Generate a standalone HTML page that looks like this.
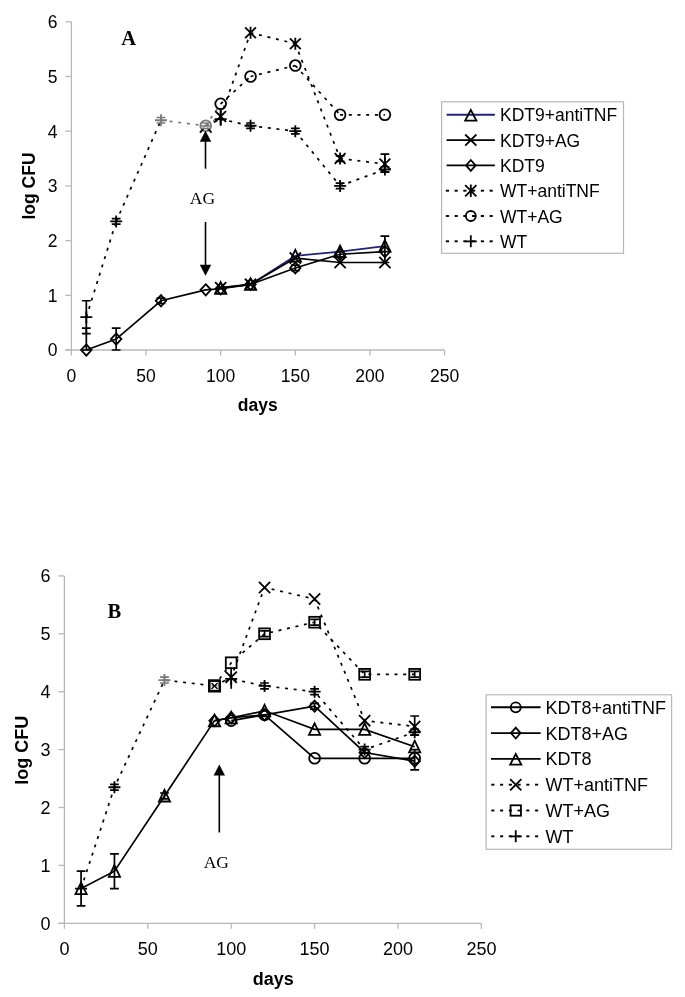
<!DOCTYPE html>
<html><head><meta charset="utf-8"><style>
html,body{margin:0;padding:0;background:#fff;}
body{width:685px;height:997px;overflow:hidden;}
svg{display:block;will-change:transform;}
</style></head><body>
<svg width="685" height="997" viewBox="0 0 685 997">
<rect width="685" height="997" fill="#fff"/>
<g stroke="#b8b8b8" stroke-width="1.3" fill="none">
<path d="M71.4 21.8L71.4 350"/>
<path d="M65.4 350L444.6 350"/>
<path d="M65.4 350L71.4 350"/>
<path d="M65.4 295.3L71.4 295.3"/>
<path d="M65.4 240.6L71.4 240.6"/>
<path d="M65.4 185.9L71.4 185.9"/>
<path d="M65.4 131.2L71.4 131.2"/>
<path d="M65.4 76.5L71.4 76.5"/>
<path d="M65.4 21.8L71.4 21.8"/>
<path d="M71.4 350L71.4 355.5"/>
<path d="M146.04 350L146.04 355.5"/>
<path d="M220.68 350L220.68 355.5"/>
<path d="M295.32 350L295.32 355.5"/>
<path d="M369.96 350L369.96 355.5"/>
<path d="M444.6 350L444.6 355.5"/>
</g>
<g font-family="Liberation Sans, sans-serif" font-size="17.5" fill="#000">
<text x="57.4" y="356.3" text-anchor="end">0</text>
<text x="57.4" y="301.6" text-anchor="end">1</text>
<text x="57.4" y="246.9" text-anchor="end">2</text>
<text x="57.4" y="192.2" text-anchor="end">3</text>
<text x="57.4" y="137.5" text-anchor="end">4</text>
<text x="57.4" y="82.8" text-anchor="end">5</text>
<text x="57.4" y="28.1" text-anchor="end">6</text>
<text x="71.4" y="382" text-anchor="middle">0</text>
<text x="146.04" y="382" text-anchor="middle">50</text>
<text x="220.68" y="382" text-anchor="middle">100</text>
<text x="295.32" y="382" text-anchor="middle">150</text>
<text x="369.96" y="382" text-anchor="middle">200</text>
<text x="444.6" y="382" text-anchor="middle">250</text>
</g>
<text x="257.7" y="411" font-family="Liberation Sans, sans-serif" font-weight="bold" font-size="17.5" text-anchor="middle">days</text>
<text transform="translate(35 186) rotate(-90)" font-family="Liberation Sans, sans-serif" font-weight="bold" font-size="17.5" text-anchor="middle">log CFU</text>
<text x="121.2" y="44.5" font-family="Liberation Serif, serif" font-weight="bold" font-size="20.5">A</text>
<path d="M86.33 317.18L116.18 221.45" stroke="#000" stroke-width="1.7" stroke-dasharray="3 5.7" fill="none"/>
<path d="M116.18 221.45L160.97 120.26" stroke="#000" stroke-width="1.7" stroke-dasharray="3 5.7" fill="none"/>
<path d="M160.97 120.26L205.75 125.73" stroke="#7a7a7a" stroke-width="1.7" stroke-dasharray="3 5.7" fill="none"/>
<path d="M205.75 125.73L220.68 119.17" stroke="#000" stroke-width="1.7" stroke-dasharray="3 5.7" fill="none"/>
<path d="M220.68 119.17L250.54 125.73" stroke="#000" stroke-width="1.7" stroke-dasharray="3 5.7" fill="none"/>
<path d="M250.54 125.73L295.32 131.2" stroke="#000" stroke-width="1.7" stroke-dasharray="3 5.7" fill="none"/>
<path d="M295.32 131.2L340.1 185.9" stroke="#000" stroke-width="1.7" stroke-dasharray="3 5.7" fill="none"/>
<path d="M340.1 185.9L384.89 169.49" stroke="#000" stroke-width="1.7" stroke-dasharray="3 5.7" fill="none"/>
<path d="M205.75 125.73L220.68 116.43" stroke="#7a7a7a" stroke-width="1.7" stroke-dasharray="3 5.7" fill="none"/>
<path d="M220.68 116.43L250.54 32.74" stroke="#000" stroke-width="1.7" stroke-dasharray="3 5.7" fill="none"/>
<path d="M250.54 32.74L295.32 43.68" stroke="#000" stroke-width="1.7" stroke-dasharray="3 5.7" fill="none"/>
<path d="M295.32 43.68L340.1 158.55" stroke="#000" stroke-width="1.7" stroke-dasharray="3 5.7" fill="none"/>
<path d="M340.1 158.55L384.89 164.02" stroke="#000" stroke-width="1.7" stroke-dasharray="3 5.7" fill="none"/>
<path d="M205.75 125.73L220.68 103.85" stroke="#7a7a7a" stroke-width="1.7" stroke-dasharray="3 5.7" fill="none"/>
<path d="M220.68 103.85L250.54 76.5" stroke="#000" stroke-width="1.7" stroke-dasharray="3 5.7" fill="none"/>
<path d="M250.54 76.5L295.32 65.56" stroke="#000" stroke-width="1.7" stroke-dasharray="3 5.7" fill="none"/>
<path d="M295.32 65.56L340.1 114.79" stroke="#000" stroke-width="1.7" stroke-dasharray="3 5.7" fill="none"/>
<path d="M340.1 114.79L384.89 114.79" stroke="#000" stroke-width="1.7" stroke-dasharray="3 5.7" fill="none"/>
<polyline points="220.68,288.19 250.54,284.36 295.32,255.92 340.1,251.54 384.89,246.07" fill="none" stroke="#22227a" stroke-width="1.7" />
<polyline points="220.68,287.64 250.54,284.36 295.32,258.1 340.1,262.48 384.89,262.48" fill="none" stroke="#000" stroke-width="1.7" />
<polyline points="86.33,350 116.18,339.06 160.97,300.77 205.75,289.83 220.68,288.74 250.54,284.36 295.32,267.95 340.1,254.27 384.89,251.54" fill="none" stroke="#000" stroke-width="1.7" />
<path d="M86.33 350L86.33 300.77M81.93 350L90.73 350M81.93 300.77L90.73 300.77" stroke="#000" stroke-width="1.7" fill="none"/>
<path d="M86.33 333.59L86.33 328.12M81.93 333.59L90.73 333.59M81.93 328.12L90.73 328.12" stroke="#000" stroke-width="1.7" fill="none"/>
<path d="M116.18 350L116.18 328.12M111.78 350L120.58 350M111.78 328.12L120.58 328.12" stroke="#000" stroke-width="1.7" fill="none"/>
<path d="M384.89 262.48L384.89 236.22M380.49 262.48L389.29 262.48M380.49 236.22L389.29 236.22" stroke="#000" stroke-width="1.7" fill="none"/>
<path d="M384.89 172.22L384.89 154.17M380.49 172.22L389.29 172.22M380.49 154.17L389.29 154.17" stroke="#000" stroke-width="1.7" fill="none"/>
<path d="M116.18 224.19L116.18 218.72M111.78 224.19L120.58 224.19M111.78 218.72L120.58 218.72" stroke="#000" stroke-width="1.7" fill="none"/>
<path d="M160.97 122.99L160.97 117.52M156.57 122.99L165.37 122.99M156.57 117.52L165.37 117.52" stroke="#7a7a7a" stroke-width="1.7" fill="none"/>
<path d="M250.54 128.47L250.54 122.99M246.14 128.47L254.94 128.47M246.14 122.99L254.94 122.99" stroke="#000" stroke-width="1.7" fill="none"/>
<path d="M295.32 133.93L295.32 128.47M290.92 133.93L299.72 133.93M290.92 128.47L299.72 128.47" stroke="#000" stroke-width="1.7" fill="none"/>
<path d="M340.1 188.63L340.1 183.16M335.7 188.63L344.5 188.63M335.7 183.16L344.5 183.16" stroke="#000" stroke-width="1.7" fill="none"/>
<path d="M384.89 172.22L384.89 166.75M380.49 172.22L389.29 172.22M380.49 166.75L389.29 166.75" stroke="#000" stroke-width="1.7" fill="none"/>
<path d="M160.97 303.5L160.97 298.03M156.57 303.5L165.37 303.5M156.57 298.03L165.37 298.03" stroke="#000" stroke-width="1.7" fill="none"/>
<path d="M295.32 270.69L295.32 265.21M290.92 270.69L299.72 270.69M290.92 265.21L299.72 265.21" stroke="#000" stroke-width="1.7" fill="none"/>
<path d="M340.1 257.01L340.1 251.54M335.7 257.01L344.5 257.01M335.7 251.54L344.5 251.54" stroke="#000" stroke-width="1.7" fill="none"/>
<path d="M340.1 161.28L340.1 155.81M335.7 161.28L344.5 161.28M335.7 155.81L344.5 155.81" stroke="#000" stroke-width="1.7" fill="none"/>
<path d="M80.33 317.18L92.33 317.18M86.33 311.18L86.33 323.18" stroke="#000" stroke-width="1.8" fill="none"/>
<path d="M110.18 221.45L122.18 221.45M116.18 215.45L116.18 227.45" stroke="#000" stroke-width="1.8" fill="none"/>
<path d="M154.97 120.26L166.97 120.26M160.97 114.26L160.97 126.26" stroke="#7a7a7a" stroke-width="1.8" fill="none"/>
<path d="M199.75 125.73L211.75 125.73M205.75 119.73L205.75 131.73" stroke="none" stroke-width="1.8" fill="none"/>
<path d="M214.68 119.17L226.68 119.17M220.68 113.17L220.68 125.17" stroke="#000" stroke-width="1.8" fill="none"/>
<path d="M244.54 125.73L256.54 125.73M250.54 119.73L250.54 131.73" stroke="#000" stroke-width="1.8" fill="none"/>
<path d="M289.32 131.2L301.32 131.2M295.32 125.2L295.32 137.2" stroke="#000" stroke-width="1.8" fill="none"/>
<path d="M334.1 185.9L346.1 185.9M340.1 179.9L340.1 191.9" stroke="#000" stroke-width="1.8" fill="none"/>
<path d="M378.89 169.49L390.89 169.49M384.89 163.49L384.89 175.49" stroke="#000" stroke-width="1.8" fill="none"/>
<path d="M200.35 120.33L211.15 131.13M211.15 120.33L200.35 131.13M205.75 119.73L205.75 131.73" stroke="none" stroke-width="1.8" fill="none"/>
<path d="M215.28 111.03L226.08 121.83M226.08 111.03L215.28 121.83M220.68 110.43L220.68 122.43" stroke="#000" stroke-width="1.8" fill="none"/>
<path d="M245.14 27.34L255.94 38.14M255.94 27.34L245.14 38.14M250.54 26.74L250.54 38.74" stroke="#000" stroke-width="1.8" fill="none"/>
<path d="M289.92 38.28L300.72 49.08M300.72 38.28L289.92 49.08M295.32 37.68L295.32 49.68" stroke="#000" stroke-width="1.8" fill="none"/>
<path d="M334.7 153.15L345.5 163.95M345.5 153.15L334.7 163.95M340.1 152.55L340.1 164.55" stroke="#000" stroke-width="1.8" fill="none"/>
<path d="M379.49 158.62L390.29 169.42M390.29 158.62L379.49 169.42M384.89 158.02L384.89 170.02" stroke="#000" stroke-width="1.8" fill="none"/>
<circle cx="205.75" cy="125.73" r="5.4" fill="none" stroke="#7a7a7a" stroke-width="1.8"/>
<circle cx="220.68" cy="103.85" r="5.4" fill="none" stroke="#000" stroke-width="1.8"/>
<circle cx="250.54" cy="76.5" r="5.4" fill="none" stroke="#000" stroke-width="1.8"/>
<circle cx="295.32" cy="65.56" r="5.4" fill="none" stroke="#000" stroke-width="1.8"/>
<circle cx="340.1" cy="114.79" r="5.4" fill="none" stroke="#000" stroke-width="1.8"/>
<circle cx="384.89" cy="114.79" r="5.4" fill="none" stroke="#000" stroke-width="1.8"/>
<path d="M220.68 282.19L226.28 293.79L215.08 293.79Z" fill="none" stroke="#000" stroke-width="1.8" stroke-linejoin="miter"/>
<path d="M250.54 278.36L256.14 289.96L244.94 289.96Z" fill="none" stroke="#000" stroke-width="1.8" stroke-linejoin="miter"/>
<path d="M295.32 249.92L300.92 261.52L289.72 261.52Z" fill="none" stroke="#000" stroke-width="1.8" stroke-linejoin="miter"/>
<path d="M340.1 245.54L345.7 257.14L334.5 257.14Z" fill="none" stroke="#000" stroke-width="1.8" stroke-linejoin="miter"/>
<path d="M384.89 240.07L390.49 251.67L379.29 251.67Z" fill="none" stroke="#000" stroke-width="1.8" stroke-linejoin="miter"/>
<path d="M215.08 282.04L226.28 293.24M226.28 282.04L215.08 293.24" stroke="#000" stroke-width="1.8" fill="none"/>
<path d="M244.94 278.76L256.14 289.96M256.14 278.76L244.94 289.96" stroke="#000" stroke-width="1.8" fill="none"/>
<path d="M289.72 252.5L300.92 263.7M300.92 252.5L289.72 263.7" stroke="#000" stroke-width="1.8" fill="none"/>
<path d="M334.5 256.88L345.7 268.08M345.7 256.88L334.5 268.08" stroke="#000" stroke-width="1.8" fill="none"/>
<path d="M379.29 256.88L390.49 268.08M390.49 256.88L379.29 268.08" stroke="#000" stroke-width="1.8" fill="none"/>
<path d="M86.33 344.4L91.53 350L86.33 355.6L81.13 350Z" fill="none" stroke="#000" stroke-width="1.8"/>
<path d="M116.18 333.46L121.38 339.06L116.18 344.66L110.98 339.06Z" fill="none" stroke="#000" stroke-width="1.8"/>
<path d="M160.97 295.17L166.17 300.77L160.97 306.37L155.77 300.77Z" fill="none" stroke="#000" stroke-width="1.8"/>
<path d="M205.75 284.23L210.95 289.83L205.75 295.43L200.55 289.83Z" fill="none" stroke="#000" stroke-width="1.8"/>
<path d="M220.68 283.14L225.88 288.74L220.68 294.34L215.48 288.74Z" fill="none" stroke="#000" stroke-width="1.8"/>
<path d="M250.54 278.76L255.74 284.36L250.54 289.96L245.34 284.36Z" fill="none" stroke="#000" stroke-width="1.8"/>
<path d="M295.32 262.35L300.52 267.95L295.32 273.55L290.12 267.95Z" fill="none" stroke="#000" stroke-width="1.8"/>
<path d="M340.1 248.67L345.3 254.27L340.1 259.88L334.9 254.27Z" fill="none" stroke="#000" stroke-width="1.8"/>
<path d="M384.89 245.94L390.09 251.54L384.89 257.14L379.69 251.54Z" fill="none" stroke="#000" stroke-width="1.8"/>
<path d="M199.95 132.53L204.25 127.93M211.55 132.53L207.25 127.93" stroke="#000" stroke-width="1.9"/>
<path d="M201.35 122.93L210.15 122.93M200.25 126.03L211.25 126.03M201.35 128.53L210.15 128.53" stroke="#7a7a7a" stroke-width="1.6"/>
<path d="M220.68 108.23L220.68 125.73" stroke="#000" stroke-width="1.7"/>
<path d="M205.5 168.7L205.5 138.8" stroke="#000" stroke-width="1.6"/>
<path d="M205.5 130.8L211.2 141.8L199.8 141.8Z" fill="#000"/>
<path d="M205.5 222L205.5 267.8" stroke="#000" stroke-width="1.6"/>
<path d="M205.5 275.8L211.2 264.8L199.8 264.8Z" fill="#000"/>
<text x="202.5" y="203.5" font-family="Liberation Serif, serif" font-size="17.5" text-anchor="middle">AG</text>
<rect x="441.6" y="101.8" width="181.9" height="151.5" fill="none" stroke="#b8b8b8" stroke-width="1.2"/>
<path d="M446.6 114.8L494.9 114.8" stroke="#22227a" stroke-width="1.9"/>
<path d="M470.8 109.9L476.4 120.6L465.2 120.6Z" fill="none" stroke="#000" stroke-width="1.8" stroke-linejoin="miter"/>
<text x="500" y="121.3" font-family="Liberation Sans, sans-serif" font-size="17.5">KDT9+antiTNF</text>
<path d="M446.6 140.1L494.9 140.1" stroke="#000" stroke-width="1.9"/>
<path d="M465.2 134.5L476.4 145.7M476.4 134.5L465.2 145.7" stroke="#000" stroke-width="1.8" fill="none"/>
<text x="500" y="146.6" font-family="Liberation Sans, sans-serif" font-size="17.5">KDT9+AG</text>
<path d="M446.6 165.4L494.9 165.4" stroke="#000" stroke-width="1.9"/>
<path d="M470.8 160L475.6 165.4L470.8 170.8L466 165.4Z" fill="none" stroke="#000" stroke-width="1.8"/>
<text x="500" y="171.9" font-family="Liberation Sans, sans-serif" font-size="17.5">KDT9</text>
<path d="M445.8 190.7L449 190.7" stroke="#000" stroke-width="1.9"/>
<path d="M454.55 190.7L457.75 190.7" stroke="#000" stroke-width="1.9"/>
<path d="M463.3 190.7L466.5 190.7" stroke="#000" stroke-width="1.9"/>
<path d="M472.05 190.7L475.25 190.7" stroke="#000" stroke-width="1.9"/>
<path d="M480.8 190.7L484 190.7" stroke="#000" stroke-width="1.9"/>
<path d="M489.55 190.7L492.75 190.7" stroke="#000" stroke-width="1.9"/>
<path d="M465.2 185.1L476.4 196.3M476.4 185.1L465.2 196.3M470.8 184.5L470.8 196.9" stroke="#000" stroke-width="1.8" fill="none"/>
<text x="500" y="197.2" font-family="Liberation Sans, sans-serif" font-size="17.5">WT+antiTNF</text>
<path d="M445.8 216L449 216" stroke="#000" stroke-width="1.9"/>
<path d="M454.55 216L457.75 216" stroke="#000" stroke-width="1.9"/>
<path d="M463.3 216L466.5 216" stroke="#000" stroke-width="1.9"/>
<path d="M472.05 216L475.25 216" stroke="#000" stroke-width="1.9"/>
<path d="M480.8 216L484 216" stroke="#000" stroke-width="1.9"/>
<path d="M489.55 216L492.75 216" stroke="#000" stroke-width="1.9"/>
<circle cx="470.8" cy="216" r="5" fill="none" stroke="#000" stroke-width="1.8"/>
<text x="500" y="222.5" font-family="Liberation Sans, sans-serif" font-size="17.5">WT+AG</text>
<path d="M445.8 241.3L449 241.3" stroke="#000" stroke-width="1.9"/>
<path d="M454.55 241.3L457.75 241.3" stroke="#000" stroke-width="1.9"/>
<path d="M463.3 241.3L466.5 241.3" stroke="#000" stroke-width="1.9"/>
<path d="M472.05 241.3L475.25 241.3" stroke="#000" stroke-width="1.9"/>
<path d="M480.8 241.3L484 241.3" stroke="#000" stroke-width="1.9"/>
<path d="M489.55 241.3L492.75 241.3" stroke="#000" stroke-width="1.9"/>
<path d="M464.8 241.3L476.8 241.3M470.8 235.3L470.8 247.3" stroke="#000" stroke-width="1.8" fill="none"/>
<text x="500" y="247.8" font-family="Liberation Sans, sans-serif" font-size="17.5">WT</text>
<g stroke="#b8b8b8" stroke-width="1.3" fill="none">
<path d="M64.4 575.9L64.4 923.3"/>
<path d="M58.4 923.3L481.4 923.3"/>
<path d="M58.4 923.3L64.4 923.3"/>
<path d="M58.4 865.4L64.4 865.4"/>
<path d="M58.4 807.5L64.4 807.5"/>
<path d="M58.4 749.6L64.4 749.6"/>
<path d="M58.4 691.7L64.4 691.7"/>
<path d="M58.4 633.8L64.4 633.8"/>
<path d="M58.4 575.9L64.4 575.9"/>
<path d="M64.4 923.3L64.4 928.8"/>
<path d="M147.8 923.3L147.8 928.8"/>
<path d="M231.2 923.3L231.2 928.8"/>
<path d="M314.6 923.3L314.6 928.8"/>
<path d="M398 923.3L398 928.8"/>
<path d="M481.4 923.3L481.4 928.8"/>
</g>
<g font-family="Liberation Sans, sans-serif" font-size="18" fill="#000">
<text x="50.4" y="929.6" text-anchor="end">0</text>
<text x="50.4" y="871.7" text-anchor="end">1</text>
<text x="50.4" y="813.8" text-anchor="end">2</text>
<text x="50.4" y="755.9" text-anchor="end">3</text>
<text x="50.4" y="698" text-anchor="end">4</text>
<text x="50.4" y="640.1" text-anchor="end">5</text>
<text x="50.4" y="582.2" text-anchor="end">6</text>
<text x="64.4" y="955.3" text-anchor="middle">0</text>
<text x="147.8" y="955.3" text-anchor="middle">50</text>
<text x="231.2" y="955.3" text-anchor="middle">100</text>
<text x="314.6" y="955.3" text-anchor="middle">150</text>
<text x="398" y="955.3" text-anchor="middle">200</text>
<text x="481.4" y="955.3" text-anchor="middle">250</text>
</g>
<text x="273.2" y="985.2" font-family="Liberation Sans, sans-serif" font-weight="bold" font-size="18" text-anchor="middle">days</text>
<text transform="translate(28 750.2) rotate(-90)" font-family="Liberation Sans, sans-serif" font-weight="bold" font-size="18" text-anchor="middle">log CFU</text>
<text x="107.5" y="618" font-family="Liberation Serif, serif" font-weight="bold" font-size="20.5">B</text>
<polyline points="81.08,888.56 114.44,787.23 164.48,680.12 214.52,685.91 231.2,678.96 264.56,685.91 314.6,691.7 364.64,749.6 414.68,732.23" fill="none" stroke="#000" stroke-width="1.7" stroke-dasharray="3 5.7"/>
<polyline points="214.52,685.91 231.2,662.75 264.56,633.8 314.6,622.22 364.64,674.33 414.68,674.33" fill="none" stroke="#000" stroke-width="1.7" stroke-dasharray="3 5.7"/>
<polyline points="214.52,685.91 231.2,677.22 264.56,587.48 314.6,599.06 364.64,720.65 414.68,726.44" fill="none" stroke="#000" stroke-width="1.7" stroke-dasharray="3 5.7"/>
<polyline points="81.08,888.56 114.44,871.19 164.48,795.92 214.52,720.65 231.2,717.75 264.56,710.81 314.6,729.33 364.64,729.33 414.68,746.7" fill="none" stroke="#000" stroke-width="1.7" />
<polyline points="214.52,720.65 231.2,717.75 264.56,714.86 314.6,706.17 364.64,752.49 414.68,761.18" fill="none" stroke="#000" stroke-width="1.7" />
<polyline points="231.2,720.65 264.56,714.86 314.6,758.28 364.64,758.28 414.68,758.28" fill="none" stroke="#000" stroke-width="1.7" />
<path d="M81.08 905.93L81.08 871.19M76.68 905.93L85.48 905.93M76.68 871.19L85.48 871.19" stroke="#000" stroke-width="1.7" fill="none"/>
<path d="M114.44 888.56L114.44 853.82M110.04 888.56L118.84 888.56M110.04 853.82L118.84 853.82" stroke="#000" stroke-width="1.7" fill="none"/>
<path d="M414.68 735.12L414.68 716.02M410.28 735.12L419.08 735.12M410.28 716.02L419.08 716.02" stroke="#000" stroke-width="1.7" fill="none"/>
<path d="M414.68 769.87L414.68 749.6M410.28 769.87L419.08 769.87M410.28 749.6L419.08 749.6" stroke="#000" stroke-width="1.7" fill="none"/>
<path d="M114.44 790.13L114.44 784.34M110.04 790.13L118.84 790.13M110.04 784.34L118.84 784.34" stroke="#000" stroke-width="1.7" fill="none"/>
<path d="M164.48 683.01L164.48 677.22M160.08 683.01L168.88 683.01M160.08 677.22L168.88 677.22" stroke="#7a7a7a" stroke-width="1.7" fill="none"/>
<path d="M264.56 688.8L264.56 683.01M260.16 688.8L268.96 688.8M260.16 683.01L268.96 683.01" stroke="#000" stroke-width="1.7" fill="none"/>
<path d="M314.6 694.59L314.6 688.8M310.2 694.59L319 694.59M310.2 688.8L319 688.8" stroke="#000" stroke-width="1.7" fill="none"/>
<path d="M364.64 752.49L364.64 746.7M360.24 752.49L369.04 752.49M360.24 746.7L369.04 746.7" stroke="#000" stroke-width="1.7" fill="none"/>
<path d="M414.68 735.12L414.68 729.33M410.28 735.12L419.08 735.12M410.28 729.33L419.08 729.33" stroke="#000" stroke-width="1.7" fill="none"/>
<path d="M164.48 798.81L164.48 793.02M160.08 798.81L168.88 798.81M160.08 793.02L168.88 793.02" stroke="#000" stroke-width="1.7" fill="none"/>
<path d="M314.6 625.12L314.6 619.33M310.2 625.12L319 625.12M310.2 619.33L319 619.33" stroke="#000" stroke-width="1.7" fill="none"/>
<path d="M264.56 636.69L264.56 630.9M260.16 636.69L268.96 636.69M260.16 630.9L268.96 630.9" stroke="#000" stroke-width="1.7" fill="none"/>
<path d="M364.64 677.22L364.64 671.43M360.24 677.22L369.04 677.22M360.24 671.43L369.04 671.43" stroke="#000" stroke-width="1.7" fill="none"/>
<path d="M414.68 677.22L414.68 671.43M410.28 677.22L419.08 677.22M410.28 671.43L419.08 671.43" stroke="#000" stroke-width="1.7" fill="none"/>
<path d="M314.6 709.07L314.6 703.28M310.2 709.07L319 709.07M310.2 703.28L319 703.28" stroke="#000" stroke-width="1.7" fill="none"/>
<path d="M75.08 888.56L87.08 888.56M81.08 882.56L81.08 894.56" stroke="#000" stroke-width="1.8" fill="none"/>
<path d="M108.44 787.23L120.44 787.23M114.44 781.23L114.44 793.23" stroke="#000" stroke-width="1.8" fill="none"/>
<path d="M158.48 680.12L170.48 680.12M164.48 674.12L164.48 686.12" stroke="#7a7a7a" stroke-width="1.8" fill="none"/>
<path d="M208.52 685.91L220.52 685.91M214.52 679.91L214.52 691.91" stroke="#000" stroke-width="1.8" fill="none"/>
<path d="M225.2 678.96L237.2 678.96M231.2 672.96L231.2 684.96" stroke="#000" stroke-width="1.8" fill="none"/>
<path d="M258.56 685.91L270.56 685.91M264.56 679.91L264.56 691.91" stroke="#000" stroke-width="1.8" fill="none"/>
<path d="M308.6 691.7L320.6 691.7M314.6 685.7L314.6 697.7" stroke="#000" stroke-width="1.8" fill="none"/>
<path d="M358.64 749.6L370.64 749.6M364.64 743.6L364.64 755.6" stroke="#000" stroke-width="1.8" fill="none"/>
<path d="M408.68 732.23L420.68 732.23M414.68 726.23L414.68 738.23" stroke="#000" stroke-width="1.8" fill="none"/>
<rect x="209.12" y="680.51" width="10.8" height="10.8" fill="none" stroke="#000" stroke-width="1.8"/>
<rect x="225.8" y="657.35" width="10.8" height="10.8" fill="none" stroke="#000" stroke-width="1.8"/>
<rect x="259.16" y="628.4" width="10.8" height="10.8" fill="none" stroke="#000" stroke-width="1.8"/>
<rect x="309.2" y="616.82" width="10.8" height="10.8" fill="none" stroke="#000" stroke-width="1.8"/>
<rect x="359.24" y="668.93" width="10.8" height="10.8" fill="none" stroke="#000" stroke-width="1.8"/>
<rect x="409.28" y="668.93" width="10.8" height="10.8" fill="none" stroke="#000" stroke-width="1.8"/>
<path d="M208.92 680.31L220.12 691.51M220.12 680.31L208.92 691.51" stroke="#000" stroke-width="1.8" fill="none"/>
<path d="M225.6 671.62L236.8 682.82M236.8 671.62L225.6 682.82" stroke="#000" stroke-width="1.8" fill="none"/>
<path d="M258.96 581.88L270.16 593.08M270.16 581.88L258.96 593.08" stroke="#000" stroke-width="1.8" fill="none"/>
<path d="M309 593.46L320.2 604.66M320.2 593.46L309 604.66" stroke="#000" stroke-width="1.8" fill="none"/>
<path d="M359.04 715.05L370.24 726.25M370.24 715.05L359.04 726.25" stroke="#000" stroke-width="1.8" fill="none"/>
<path d="M409.08 720.84L420.28 732.04M420.28 720.84L409.08 732.04" stroke="#000" stroke-width="1.8" fill="none"/>
<path d="M81.08 882.56L86.68 894.16L75.48 894.16Z" fill="none" stroke="#000" stroke-width="1.8" stroke-linejoin="miter"/>
<path d="M114.44 865.19L120.04 876.79L108.84 876.79Z" fill="none" stroke="#000" stroke-width="1.8" stroke-linejoin="miter"/>
<path d="M164.48 789.92L170.08 801.52L158.88 801.52Z" fill="none" stroke="#000" stroke-width="1.8" stroke-linejoin="miter"/>
<path d="M214.52 714.65L220.12 726.25L208.92 726.25Z" fill="none" stroke="#000" stroke-width="1.8" stroke-linejoin="miter"/>
<path d="M231.2 711.75L236.8 723.36L225.6 723.36Z" fill="none" stroke="#000" stroke-width="1.8" stroke-linejoin="miter"/>
<path d="M264.56 704.81L270.16 716.41L258.96 716.41Z" fill="none" stroke="#000" stroke-width="1.8" stroke-linejoin="miter"/>
<path d="M314.6 723.33L320.2 734.93L309 734.93Z" fill="none" stroke="#000" stroke-width="1.8" stroke-linejoin="miter"/>
<path d="M364.64 723.33L370.24 734.93L359.04 734.93Z" fill="none" stroke="#000" stroke-width="1.8" stroke-linejoin="miter"/>
<path d="M414.68 740.7L420.28 752.3L409.08 752.3Z" fill="none" stroke="#000" stroke-width="1.8" stroke-linejoin="miter"/>
<path d="M214.52 715.05L219.72 720.65L214.52 726.25L209.32 720.65Z" fill="none" stroke="#000" stroke-width="1.8"/>
<path d="M231.2 712.15L236.4 717.75L231.2 723.36L226 717.75Z" fill="none" stroke="#000" stroke-width="1.8"/>
<path d="M264.56 709.26L269.76 714.86L264.56 720.46L259.36 714.86Z" fill="none" stroke="#000" stroke-width="1.8"/>
<path d="M314.6 700.57L319.8 706.17L314.6 711.77L309.4 706.17Z" fill="none" stroke="#000" stroke-width="1.8"/>
<path d="M364.64 746.89L369.84 752.49L364.64 758.09L359.44 752.49Z" fill="none" stroke="#000" stroke-width="1.8"/>
<path d="M414.68 755.58L419.88 761.18L414.68 766.78L409.48 761.18Z" fill="none" stroke="#000" stroke-width="1.8"/>
<circle cx="231.2" cy="720.65" r="5.4" fill="none" stroke="#000" stroke-width="1.8"/>
<circle cx="264.56" cy="714.86" r="5.4" fill="none" stroke="#000" stroke-width="1.8"/>
<circle cx="314.6" cy="758.28" r="5.4" fill="none" stroke="#000" stroke-width="1.8"/>
<circle cx="364.64" cy="758.28" r="5.4" fill="none" stroke="#000" stroke-width="1.8"/>
<circle cx="414.68" cy="758.28" r="5.4" fill="none" stroke="#000" stroke-width="1.8"/>
<rect x="209.32" y="680.71" width="10.4" height="10.4" fill="#fff" stroke="#000" stroke-width="2.5"/>
<path d="M211.52 682.91L217.52 688.91M217.52 682.91L211.52 688.91" stroke="#000" stroke-width="1.4" fill="none"/>
<path d="M211.52 685.91L217.52 685.91" stroke="#000" stroke-width="0.8"/>
<path d="M231.2 667.38L231.2 688.8" stroke="#000" stroke-width="1.7"/>
<path d="M219.3 832.5L219.3 772.6" stroke="#000" stroke-width="1.6"/>
<path d="M219.3 764.6L225 775.6L213.6 775.6Z" fill="#000"/>
<text x="216.3" y="868" font-family="Liberation Serif, serif" font-size="17.5" text-anchor="middle">AG</text>
<rect x="486.1" y="694.8" width="185.5" height="154.5" fill="none" stroke="#b8b8b8" stroke-width="1.2"/>
<path d="M491 707.3L540.6 707.3" stroke="#000" stroke-width="1.9"/>
<circle cx="515.75" cy="707.3" r="5" fill="none" stroke="#000" stroke-width="1.8"/>
<text x="545.4" y="713.8" font-family="Liberation Sans, sans-serif" font-size="18">KDT8+antiTNF</text>
<path d="M491 733.1L540.6 733.1" stroke="#000" stroke-width="1.9"/>
<path d="M515.75 727.7L520.55 733.1L515.75 738.5L510.95 733.1Z" fill="none" stroke="#000" stroke-width="1.8"/>
<text x="545.4" y="739.6" font-family="Liberation Sans, sans-serif" font-size="18">KDT8+AG</text>
<path d="M491 758.9L540.6 758.9" stroke="#000" stroke-width="1.9"/>
<path d="M515.75 754L521.35 764.7L510.15 764.7Z" fill="none" stroke="#000" stroke-width="1.8" stroke-linejoin="miter"/>
<text x="545.4" y="765.4" font-family="Liberation Sans, sans-serif" font-size="18">KDT8</text>
<path d="M491.3 784.7L494.4 784.7" stroke="#000" stroke-width="1.9"/>
<path d="M500.05 784.7L503.15 784.7" stroke="#000" stroke-width="1.9"/>
<path d="M508.8 784.7L511.9 784.7" stroke="#000" stroke-width="1.9"/>
<path d="M517.55 784.7L520.65 784.7" stroke="#000" stroke-width="1.9"/>
<path d="M526.3 784.7L529.4 784.7" stroke="#000" stroke-width="1.9"/>
<path d="M535.05 784.7L538.15 784.7" stroke="#000" stroke-width="1.9"/>
<path d="M510.15 779.1L521.35 790.3M521.35 779.1L510.15 790.3" stroke="#000" stroke-width="1.8" fill="none"/>
<text x="545.4" y="791.2" font-family="Liberation Sans, sans-serif" font-size="18">WT+antiTNF</text>
<path d="M491.3 810.5L494.4 810.5" stroke="#000" stroke-width="1.9"/>
<path d="M500.05 810.5L503.15 810.5" stroke="#000" stroke-width="1.9"/>
<path d="M508.8 810.5L511.9 810.5" stroke="#000" stroke-width="1.9"/>
<path d="M517.55 810.5L520.65 810.5" stroke="#000" stroke-width="1.9"/>
<path d="M526.3 810.5L529.4 810.5" stroke="#000" stroke-width="1.9"/>
<path d="M535.05 810.5L538.15 810.5" stroke="#000" stroke-width="1.9"/>
<rect x="510.55" y="805.3" width="10.4" height="10.4" fill="none" stroke="#000" stroke-width="1.8"/>
<text x="545.4" y="817" font-family="Liberation Sans, sans-serif" font-size="18">WT+AG</text>
<path d="M491.3 836.3L494.4 836.3" stroke="#000" stroke-width="1.9"/>
<path d="M500.05 836.3L503.15 836.3" stroke="#000" stroke-width="1.9"/>
<path d="M508.8 836.3L511.9 836.3" stroke="#000" stroke-width="1.9"/>
<path d="M517.55 836.3L520.65 836.3" stroke="#000" stroke-width="1.9"/>
<path d="M526.3 836.3L529.4 836.3" stroke="#000" stroke-width="1.9"/>
<path d="M535.05 836.3L538.15 836.3" stroke="#000" stroke-width="1.9"/>
<path d="M509.75 836.3L521.75 836.3M515.75 830.3L515.75 842.3" stroke="#000" stroke-width="1.8" fill="none"/>
<text x="545.4" y="842.8" font-family="Liberation Sans, sans-serif" font-size="18">WT</text>
</svg>
</body></html>
